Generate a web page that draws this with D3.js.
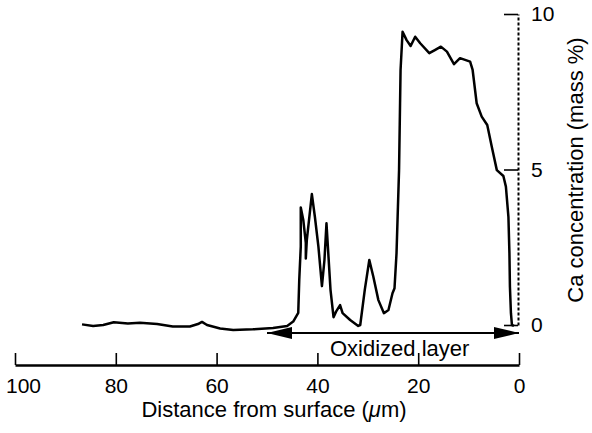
<!DOCTYPE html>
<html>
<head>
<meta charset="utf-8">
<script src="https://cdn.jsdelivr.net/npm/d3@7"></script>
<style>
  body { margin: 0; background: #fff; }
  svg { display: block; font-family: "Liberation Sans", Arial, sans-serif; }
</style>
</head>
<body>
<div id="chart"></div>
<script>
// Ca line scan (distance in um, Ca in mass %)
const distance = [86.7,84.5,82.5,80.4,77.6,75.2,71.8,68.7,65.3,63.7,
  62.9,61.9,59.3,56.7,52.8,48.8,46.0,44.8,43.8,43.6,
  43.3,43.3,42.8,42.3,42.3,42.1,41.1,40.5,39.8,39.1,
  38.6,38.2,37.8,37.4,36.8,36.3,35.5,35.0,33.5,31.9,
  31.5,30.6,29.7,28.9,27.9,26.8,25.9,25.1,24.7,24.3,
  23.8,23.5,23.1,22.3,21.5,20.6,19.6,17.8,16.7,15.5,
  14.3,12.9,11.7,9.7,9.2,8.4,7.4,6.3,5.4,4.4,
  3.1,2.6,2.1,1.9,1.8,1.6,1.4,1.0];
const calcium = [0.02,-0.03,0.0,0.09,0.05,0.07,0.03,-0.05,-0.05,0.03,
  0.10,0.0,-0.11,-0.16,-0.14,-0.10,-0.03,0.11,0.39,1.45,
  2.52,3.78,3.38,2.64,2.14,2.73,4.21,3.48,2.52,1.25,
  2.09,3.27,2.20,1.13,0.25,0.43,0.64,0.38,0.16,-0.03,
  0.0,1.13,2.09,1.55,0.80,0.38,0.48,1.02,1.18,2.31,
  4.98,8.20,9.43,9.16,8.97,9.27,9.06,8.74,8.84,8.95,
  8.79,8.39,8.58,8.47,8.20,7.13,6.70,6.43,5.73,4.98,
  4.79,4.45,3.48,2.31,1.23,0.38,0.0,-0.03];

const xTicks = [100, 80, 60, 40, 20, 0];
const yTicks = [0, 5, 10];
const layerSpan = [50, 0];
const layerLabel = "Oxidized layer";

const width = 592, height = 433;

const svg = d3.select("#chart").append("svg")
  .attr("width", width)
  .attr("height", height);

const x = d3.scaleLinear().domain([100, 0]).range([15, 519]);
const y = d3.scaleLinear().domain([0, 10]).range([325, 14]);

// bottom axis, ticks pointing up
const xAxis = svg.append("g")
  .attr("transform", "translate(0,365)")
  .call(d3.axisBottom(x).tickValues(xTicks).tickSizeInner(-12).tickSizeOuter(0).tickPadding(13));
xAxis.select(".domain").attr("stroke-width", 2.4);
xAxis.selectAll(".tick line").attr("stroke-width", 1.6);
xAxis.selectAll(".tick text")
  .style("font-size", "21px")
  .attr("fill", "#000")
  .attr("dx", function(d) { return d === 100 ? 8 : 0; });

// right axis, dashed, ticks pointing left
const yAxis = svg.append("g")
  .attr("transform", "translate(518,0)")
  .call(d3.axisRight(y).tickValues(yTicks).tickSizeInner(-14).tickSizeOuter(0).tickPadding(13));
yAxis.select(".domain")
  .attr("stroke-width", 2)
  .attr("stroke-dasharray", "3,2");
yAxis.selectAll(".tick line").attr("stroke-width", 1.6);
yAxis.selectAll(".tick text")
  .style("font-size", "21px")
  .attr("fill", "#000");

// axis titles
const xTitle = svg.append("text")
  .attr("x", 274)
  .attr("y", 417)
  .attr("text-anchor", "middle")
  .style("font-size", "22px");
xTitle.append("tspan").text("Distance from surface (");
xTitle.append("tspan").style("font-style", "italic").text("\u03bc");
xTitle.append("tspan").text("m)");

svg.append("text")
  .attr("transform", "translate(583,170) rotate(-90)")
  .attr("text-anchor", "middle")
  .style("font-size", "22px")
  .text("Ca concentration (mass %)");

// the profile
const line = d3.line()
  .x(function(d, i) { return x(distance[i]); })
  .y(function(d) { return y(d); });

svg.append("path")
  .attr("d", line(calcium))
  .attr("fill", "none")
  .attr("stroke", "#000")
  .attr("stroke-width", 2.5)
  .attr("stroke-linejoin", "round");

// oxidized layer arrow
svg.append("defs").append("marker")
  .attr("id", "head")
  .attr("viewBox", "0 0 25 12")
  .attr("refX", 25)
  .attr("refY", 6)
  .attr("markerWidth", 25)
  .attr("markerHeight", 12)
  .attr("markerUnits", "userSpaceOnUse")
  .attr("orient", "auto-start-reverse")
  .append("path")
    .attr("d", "M0,0L25,6L0,12Z")
    .attr("fill", "#000");

svg.append("line")
  .attr("x1", x(layerSpan[0]))
  .attr("x2", x(layerSpan[1]))
  .attr("y1", 333)
  .attr("y2", 333)
  .attr("stroke", "#000")
  .attr("stroke-width", 2)
  .attr("marker-start", "url(#head)")
  .attr("marker-end", "url(#head)");

svg.append("text")
  .attr("x", 330)
  .attr("y", 356)
  .style("font-size", "22px")
  .text(layerLabel);
</script>
</body>
</html>
